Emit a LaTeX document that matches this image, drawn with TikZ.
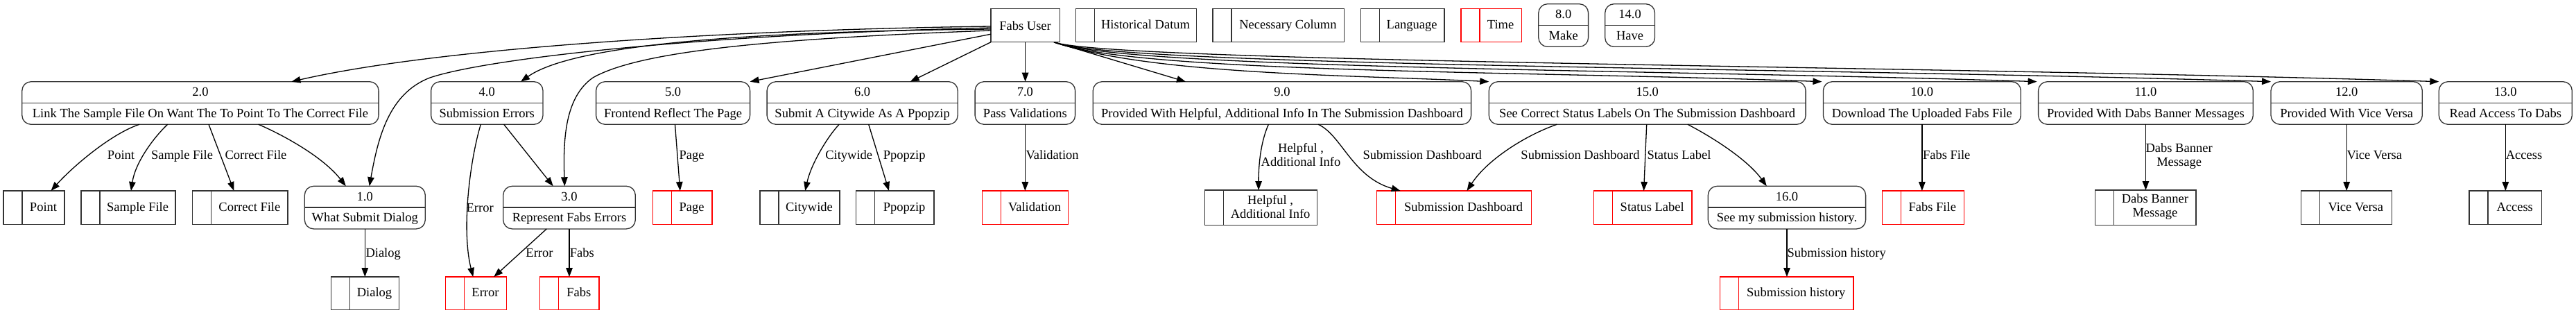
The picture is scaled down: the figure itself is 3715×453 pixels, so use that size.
\documentclass[tikz,border=0pt]{standalone}
\usepackage{fontspec}
\setmainfont{Liberation Serif}
\usetikzlibrary{arrows.meta}

\tikzset{
  every node/.style={inner sep=0pt, outer sep=0pt},
  box/.style={draw=black!80, line width=1.3pt},
  procbox/.style={box, rounded corners=13pt, minimum height=61.6pt},
  storebox/.style={draw=#1, line width=1.3pt},
  txt/.style={font=\fontsize{18.5}{20}\selectfont, text height=12.7pt, text depth=0pt},
  mtxt/.style={font=\fontsize{18.5}{20}\selectfont, align=center},
  flow/.style={line width=1.3pt, -{Triangle[length=13pt,width=9.5pt]}},
}

% name, cx, top, width, number, label
\newcommand\dfdproc[6]{%
  \node[procbox, minimum width=#4pt, anchor=north] (#1) at (#2,#3) {};
  \draw[line width=1.3pt, draw=black!80] ([yshift=-30.6pt]#1.north west) -- ([yshift=-30.6pt]#1.north east);
  \node[txt] (#1n) at ([yshift=-14.5pt]#1.north) {#5};
  \node[txt] (#1t) at ([yshift=-45.3pt]#1.north) {#6};
}
% [style] name, left, cy, width, height, colour, text
\newcommand\dfdstore[8][txt]{%
  \node[storebox=#7, minimum width=#5pt, minimum height=#6pt, anchor=west] (#2) at (#3,#4) {};
  \draw[draw=#7, line width=1.3pt] ([xshift=27pt]#2.north west) -- ([xshift=27pt]#2.south west);
  \node[#1] (#2t) at ([xshift=13.5pt,yshift=1.3pt]#2.center) {#8};
}

\begin{document}
\begin{tikzpicture}[x=1pt, y=-1pt]
\useasboundingbox (0,0) rectangle (3715,453);
\fill[white] (0,0) rectangle (3715,453);

% ---------- top row ----------
\node[box, txt, minimum width=99.2pt, minimum height=48pt] (fu) at (1478.6,36.7) {Fabs User};
\dfdstore{shist}{1551.8}{36.7}{173.5}{48}{black!80}{Historical Datum}
\dfdstore{snec}{1749}{36.7}{189.8}{48}{black!80}{Necessary Column}
\dfdstore{slang}{1962.4}{36.7}{120.5}{48}{black!80}{Language}
\dfdstore{stime}{2106.9}{36.7}{87.4}{48}{red}{Time}
\dfdproc{p8}{2254.7}{5.7}{71.8}{8.0}{Make}
\dfdproc{p14}{2350.6}{5.7}{71.8}{14.0}{Have}

% ---------- processes, second row ----------
\dfdproc{p2}{288.95}{117.7}{514.3}{2.0}{Link The Sample File On Want The To Point To The Correct File}
\dfdproc{p4}{702.3}{117.7}{161.4}{4.0}{Submission Errors}
\dfdproc{p5}{970.6}{117.7}{222}{5.0}{Frontend Reflect The Page}
\dfdproc{p6}{1243.65}{117.7}{275.1}{6.0}{Submit A Citywide As A Ppopzip}
\dfdproc{p7}{1478.35}{117.7}{144.5}{7.0}{Pass Validations}
\dfdproc{p9}{1848.95}{117.7}{545.3}{9.0}{Provided With Helpful, Additional Info In The Submission Dashboard}
\dfdproc{p15}{2375.7}{117.7}{456.8}{15.0}{See Correct Status Labels On The Submission Dashboard}
\dfdproc{p10}{2771.85}{117.7}{284.9}{10.0}{Download The Uploaded Fabs File}
\dfdproc{p11}{3094.45}{117.7}{309.7}{11.0}{Provided With Dabs Banner Messages}
\dfdproc{p12}{3384.15}{117.7}{218.3}{12.0}{Provided With Vice Versa}
\dfdproc{p13}{3613.3}{117.7}{192}{13.0}{Read Access To Dabs}

% ---------- third row ----------
\dfdstore{spoint}{4.9}{299.2}{88.2}{48.3}{black!80}{Point}
\dfdstore{ssample}{117.1}{299.2}{136}{48.3}{black!80}{Sample File}
\dfdstore{scorrect}{277.6}{299.2}{137.5}{48.3}{black!80}{Correct File}
\dfdproc{p1}{526.3}{268.3}{174}{1.0}{What Submit Dialog}
\dfdproc{p3}{821}{268.3}{190.6}{3.0}{Represent Fabs Errors}
\dfdstore{spage}{941.2}{299.2}{85.7}{48.3}{red}{Page}
\dfdstore{scity}{1095.9}{299.2}{115.1}{48.3}{black!80}{Citywide}
\dfdstore{sppop}{1234.3}{299.2}{112.6}{48.3}{black!80}{Ppopzip}
\dfdstore{svalid}{1416.3}{299.2}{124.5}{48.3}{red}{Validation}
\dfdstore[mtxt]{shelp}{1737.6}{299.2}{162}{50.3}{black!80}{Helpful ,\\Additional Info}
\dfdstore{ssubdash}{1985.7}{299.2}{222.9}{48.3}{red}{Submission Dashboard}
\dfdstore{sstatus}{2298.4}{299.2}{141.6}{48.3}{red}{Status Label}
\dfdproc{p16}{2576.95}{268.3}{227.3}{16.0}{See my submission history.}
\dfdstore{sfabsfile}{2714.3}{299.2}{117.9}{48.3}{red}{Fabs File}
\dfdstore[mtxt]{sdabs}{3021.6}{299.2}{145.5}{50.3}{black!80}{Dabs Banner\\Message}
\dfdstore{svice}{3318.3}{299.2}{131}{48.3}{black!80}{Vice Versa}
\dfdstore{saccess}{3561}{299.2}{104.3}{48.3}{black!80}{Access}

% ---------- fourth row ----------
\dfdstore{sdialog}{477.7}{422.85}{97.6}{47.7}{black!80}{Dialog}
\dfdstore{serror}{642.4}{422.85}{88.2}{47.7}{red}{Error}
\dfdstore{sfabs}{778.4}{422.85}{85.7}{47.7}{red}{Fabs}
\dfdstore{ssubhist}{2480.4}{422.85}{192.7}{47.7}{red}{Submission history}

% ---------- Fabs User to the left ----------
\draw[flow] ([yshift=-1.3pt]fu.west) .. controls (1100,42) and (650,65) .. ([xshift=131.45pt]p2.north);
\draw[flow] ([yshift=-3.3pt]fu.west) .. controls (1000,50) and (700,85) .. (620,112) .. controls (560,135) and (545,200) .. ([xshift=6.4pt]p1.north);
\draw[flow] ([yshift=-5.3pt]fu.west) .. controls (1100,45) and (830,62) .. ([xshift=48.7pt]p4.north);
\draw[flow] ([yshift=-7.3pt]fu.west) .. controls (1100,56) and (920,75) .. (855,112) .. controls (815,140) and (812,200) .. ([xshift=-6.7pt]p3.north);
\draw[flow] ([yshift=-12.5pt]fu.west) -- (p5.north east);
\draw[flow] (fu.south west) -- ([xshift=69pt]p6.north);
\draw[flow] (fu.south) -- (fu.south |- p7.north);

% ---------- Fabs User to the right ----------
\draw[flow] ([xshift=-8.2pt]fu.south east) -- ([xshift=-139pt]p9.north);
\draw[flow] ([xshift=-8.2pt]fu.south east) .. controls (1660,108) and (1950,108) .. (p15.north west);
\draw[flow] ([xshift=-8.2pt]fu.south east) .. controls (1640,106) and (2200,102) .. ([xshift=-2pt]p10.north west);
\draw[flow] ([xshift=-8.2pt]fu.south east) .. controls (1620,100) and (2400,100) .. ([xshift=-2pt]p11.north west);
\draw[flow] ([xshift=-8.2pt]fu.south east) .. controls (1610,96) and (2600,97) .. (p12.north west);
\draw[flow] ([xshift=-8.2pt]fu.south east) .. controls (1600,90) and (2800,95) .. (p13.north west);

% ---------- 2.0 ----------
\draw[flow] ([xshift=-87.95pt]p2.south) .. controls (160,193) and (105,240) .. ([xshift=24.5pt]spoint.north);
\node[txt] (lpoint) at (174.5,223) {Point};
\draw[flow] ([xshift=-47.35pt]p2.south) .. controls (220,200) and (195,235) .. ([xshift=3.9pt]ssample.north);
\node[txt] (lsample) at (262.5,223) {Sample File};
\draw[flow] ([xshift=12.05pt]p2.south) -- ([xshift=-8.85pt]scorrect.north);
\node[txt] (lcorrect) at (369,223) {Correct File};
\draw[flow] ([xshift=83.75pt]p2.south) .. controls (405,193) and (465,225) .. ([xshift=-27.5pt]p1.north);

% ---------- 1.0 ----------
\draw[flow] (p1.south) -- (p1.south |- sdialog.north);
\node[txt, anchor=west] (ldialog) at (527.5,364.2) {Dialog};

% ---------- 4.0 / 3.0 ----------
\draw[flow] ([xshift=-9pt]p4.south) .. controls (678,230) and (665,330) .. ([xshift=-4.2pt]serror.north);
\node[txt] (lerr1) at (692.2,298.7) {Error};
\draw[flow] ([xshift=24.4pt]p4.south) -- ([xshift=-23.3pt]p3.north);
\draw[flow] ([xshift=-32.7pt]p3.south) -- ([xshift=25.8pt]serror.north);
\node[txt] (lerr2) at (778,364.2) {Error};
\draw[flow] (p3.south) -- (p3.south |- sfabs.north);
\node[txt, anchor=west] (lfabs) at (821.8,364.2) {Fabs};

% ---------- 5.0, 6.0, 7.0 ----------
\draw[flow] ([xshift=2.9pt]p5.south) -- ([xshift=-3.25pt]spage.north);
\node[txt, anchor=west] (lpage) at (979.6,223) {Page};
\draw[flow] ([xshift=-33.45pt]p6.south) .. controls (1195,195) and (1170,235) .. ([xshift=7.75pt]scity.north);
\node[txt] (lcity) at (1224.25,223) {Citywide};
\draw[flow] ([xshift=9.05pt]p6.south) -- ([xshift=-8.6pt]sppop.north);
\node[txt] (lppop) at (1304.25,223) {Ppopzip};
\draw[flow] (p7.south) -- (p7.south |- svalid.north);
\node[txt, anchor=west] (lvalid) at (1479.6,223) {Validation};

% ---------- 9.0 ----------
\draw[flow] ([xshift=-19.55pt]p9.south) .. controls (1820,200) and (1815,230) .. ([xshift=-3.5pt]shelp.north);
\node[mtxt] (lhelp) at (1876,223) {Helpful ,\\Additional Info};
\draw[flow] ([xshift=52.25pt]p9.south) .. controls (1935,195) and (1950,255) .. ([xshift=-77.55pt]ssubdash.north);
\node[txt] (lsd1) at (2051.25,223) {Submission Dashboard};

% ---------- 15.0 / 16.0 ----------
\draw[flow] ([xshift=-130.4pt]p15.south) .. controls (2200,195) and (2145,230) .. ([xshift=18.35pt]ssubdash.north);
\node[txt] (lsd2) at (2279,223) {Submission Dashboard};
\draw[flow] ([xshift=-1pt]p15.south) -- ([xshift=1.4pt]sstatus.north);
\node[txt, anchor=west] (lstatus) at (2375.5,223) {Status Label};
\draw[flow] ([xshift=58.2pt]p15.south) .. controls (2470,198) and (2520,230) .. ([xshift=-29.15pt]p16.north);
\draw[flow] (p16.south) -- (p16.south |- ssubhist.north);
\node[txt, anchor=west] (lsubhist) at (2577.5,364.2) {Submission history};

% ---------- 10.0 .. 13.0 ----------
\draw[flow] (p10.south) -- (p10.south |- sfabsfile.north);
\node[txt, anchor=west] (lfabsfile) at (2773,223) {Fabs File};
\draw[flow] (p11.south) -- (p11.south |- sdabs.north);
\node[mtxt] (ldabs) at (3142.6,225) {Dabs Banner\\Message};
\draw[flow] (p12.south) -- (p12.south |- svice.north);
\node[txt, anchor=west] (lvice) at (3384.5,223) {Vice Versa};
\draw[flow] (p13.south) -- (p13.south |- saccess.north);
\node[txt, anchor=west] (laccess) at (3613.8,223) {Access};
\end{tikzpicture}
\end{document}
